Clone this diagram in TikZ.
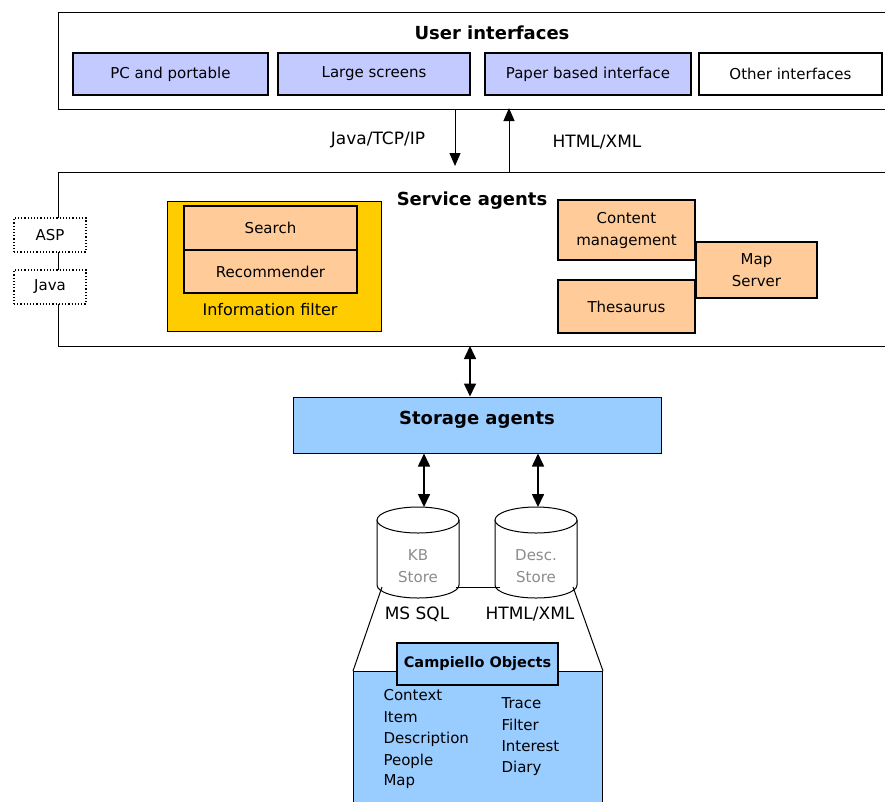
\documentclass[tikz,border=0pt]{standalone}
\usepackage{fontspec}
\setmainfont{DejaVu Sans}
\usetikzlibrary{arrows.meta}
\definecolor{lav}{RGB}{194,202,255}
\definecolor{gold}{RGB}{255,204,0}
\definecolor{peach}{RGB}{255,204,153}
\definecolor{sky}{RGB}{153,204,255}
\definecolor{cylgray}{RGB}{140,140,140}
\begin{document}
\begin{tikzpicture}[x=1pt,y=-1pt,
  font=\fontsize{15}{22}\selectfont,
  frame/.style={draw=black, line width=1pt, fill=white},
  uibox/.style={draw=black, line width=1.3pt, fill=lav, inner sep=0pt},
  peachbox/.style={draw=black, line width=1.3pt, fill=peach, inner sep=0pt, align=center},
  dotbox/.style={draw=black, line width=1.2pt, dotted, fill=white, inner sep=0pt, minimum width=72pt, minimum height=34pt},
  arr/.style={line width=1pt, -{Triangle[length=13pt,width=11pt]}},
  darr/.style={line width=1.6pt, {Triangle[length=13pt,width=12pt]}-{Triangle[length=13pt,width=12pt]}},
  title/.style={font=\fontsize{18}{20}\selectfont\bfseries},
  lbl/.style={font=\fontsize{17}{20}\selectfont},
  lst/.style={font=\fontsize{15}{18}\selectfont, anchor=west}
]
\useasboundingbox (0,0) rectangle (885,801);
\clip (0,0) rectangle (885,801);

% User interfaces
\node[frame, anchor=north west, minimum width=840pt, minimum height=97pt, inner sep=0pt] (ui) at (58,12) {};
\node[title] (uit) at (492,33) {User interfaces};
\node[uibox, minimum width=195pt, minimum height=42pt] (pc) at (170.5,74) {PC and portable};
\node[uibox, minimum width=192pt, minimum height=42pt] (ls) at (374,74) {Large screens};
\node[uibox, minimum width=206pt, minimum height=42pt] (pb) at (588,74) {Paper based interface};
\node[uibox, fill=white, minimum width=183pt, minimum height=42pt] (oi) at (790.5,74) {Other interfaces};

% Service agents
\node[frame, anchor=north west, minimum width=840pt, minimum height=174pt, inner sep=0pt] (sa) at (58,172) {};
\node[title] (sat) at (472,201) {Service agents};

\coordinate (dtop) at (455,109);
\coordinate (dbot) at (455,166);
\draw[arr] (dtop) -- (dbot);
\coordinate (ubot) at (509,172);
\coordinate (utop) at (509,108);
\draw[arr] (ubot) -- (utop);
\node[lbl] (jt) at (378,140) {Java/TCP/IP};
\node[lbl] (hx) at (597,142) {HTML/XML};

\node[dotbox] (asp) at (50,235) {ASP};
\node[dotbox] (java) at (50,287) {Java};

% Information filter
\node[draw=black, line width=1.3pt, fill=gold, anchor=north west, minimum width=214pt, minimum height=130pt, inner sep=0pt] (inf) at (167,201) {};
\node[peachbox, minimum width=173pt, minimum height=44pt] (search) at (270.5,228) {Search};
\node[peachbox, minimum width=173pt, minimum height=43pt] (rec) at (270.5,271.5) {Recommender};
\node[font=\fontsize{16}{18}\selectfont] (inft) at (270,310) {Information filter};

\node[peachbox, minimum width=137pt, minimum height=60pt] (cm) at (626.5,230) {Content\\management};
\node[peachbox, minimum width=137pt, minimum height=53pt] (th) at (626.5,306.5) {Thesaurus};
\node[peachbox, minimum width=121pt, minimum height=56pt] (ms) at (756.5,270) {Map\\Server};

% Storage agents
\node[draw=black, line width=1pt, fill=sky, minimum width=368pt, minimum height=56pt, inner sep=0pt] (st) at (477,425) {};
\node[font=\fontsize{18}{20}\selectfont\bfseries] (stt) at (477,420) {Storage agents};
\coordinate (sat1) at (470,346);
\draw[darr] (sat1) -- (st.north -| sat1);
\coordinate (k1) at (424,507);
\coordinate (d1) at (538,507);
\draw[darr] (st.south -| k1) -- (k1);
\draw[darr] (st.south -| d1) -- (d1);

% cylinders
\foreach \cx/\nm in {418/kb,536/ds}{
  \fill[white] (\cx-41,520) -- (\cx-41,585) arc[start angle=180,end angle=0,x radius=41,y radius=13] -- (\cx+41,520) -- cycle;
  \draw[line width=1pt] (\cx-41,520) -- (\cx-41,585) arc[start angle=180,end angle=0,x radius=41,y radius=13] -- (\cx+41,520);
  \draw[line width=1pt, fill=white] (\cx,520) ellipse[x radius=41, y radius=13];
  \coordinate (\nm) at (\cx,566);
}
\node[text=cylgray, align=center, font=\fontsize{15}{22}\selectfont] (kbt) at (kb) {KB\\Store};
\node[text=cylgray, align=center, font=\fontsize{15}{22}\selectfont] (dst) at (ds) {Desc.\\Store};
\coordinate (l1) at (456,587);
\coordinate (l2) at (500,587);
\draw[line width=1pt] (l1) -- (l2);
\node[lbl] (msq) at (417,614) {MS SQL};
\node[lbl] (hx2) at (530,614) {HTML/XML};

% Campiello objects
\coordinate (ls1) at (382,587);
\coordinate (rs1) at (573,587);
\node[draw=black, line width=1pt, fill=sky, anchor=north west, minimum width=249pt, minimum height=140pt, inner sep=0pt] (co) at (353,671) {};
\draw[line width=1pt] (ls1) -- (co.north west);
\draw[line width=1pt] (rs1) -- (co.north east);
\node[draw=black, line width=1.3pt, fill=sky, minimum width=161pt, minimum height=42pt, inner sep=0pt, font=\fontsize{14.5}{18}\selectfont\bfseries] (cot) at (477.5,664) {Campiello Objects};
\node[lst] (c1) at (380,695) {Context};
\node[lst] (c2) at (380,717) {Item};
\node[lst] (c3) at (380,739) {Description};
\node[lst] (c4) at (380,761) {People};
\node[lst] (c5) at (380,782) {Map};
\node[lst] (t1) at (498,703) {Trace};
\node[lst] (t2) at (498,725) {Filter};
\node[lst] (t3) at (498,746) {Interest};
\node[lst] (t4) at (498,768) {Diary};
\end{tikzpicture}
\end{document}
